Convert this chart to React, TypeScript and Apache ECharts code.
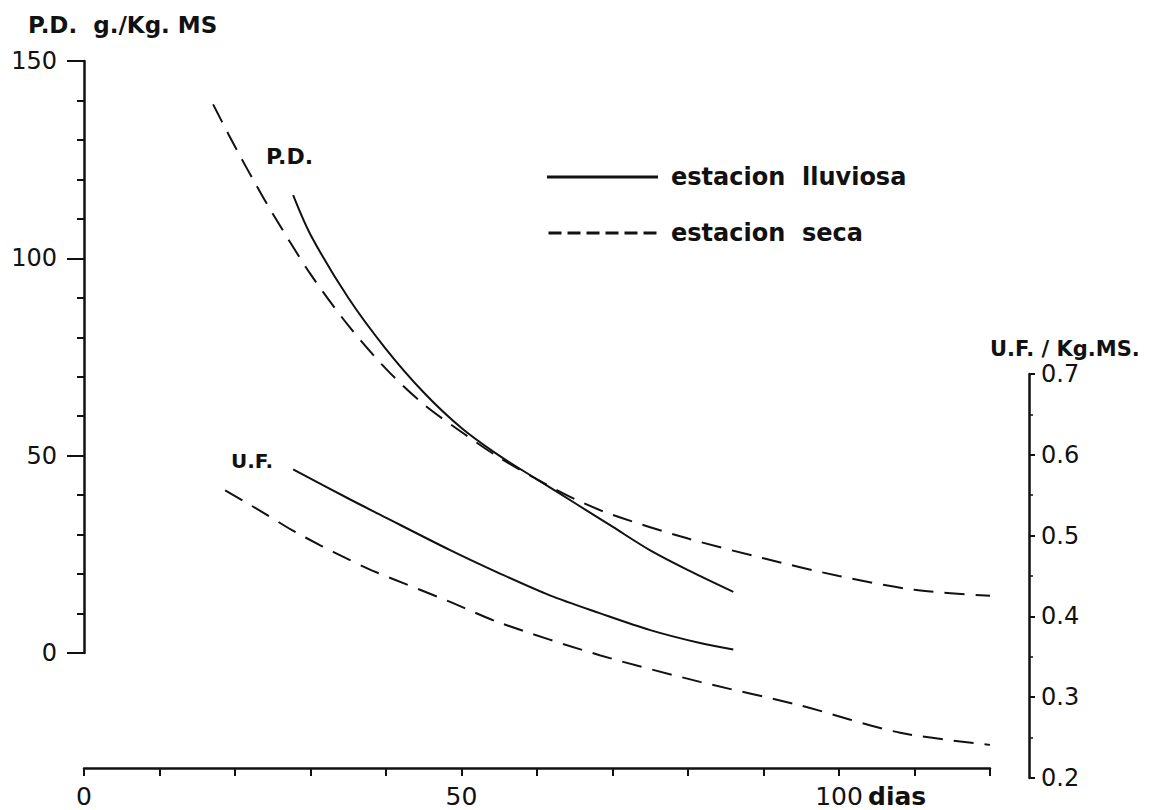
import React, { useEffect, useRef } from "react";
import * as echarts from "echarts";

// Days and values
const daysLluviosaPD = [27.7, 30, 35, 40, 45, 50, 55, 60, 65, 70, 75, 80, 86];
const pdLluviosa = [116, 106, 90, 77, 66, 57, 50, 44, 38, 32, 26, 21, 15.5];
const daysSecaPD = [17.1, 19.2, 20.8, 22.5, 25, 30, 35, 40, 45, 50, 55, 60, 65, 70, 80, 90, 100, 110, 120];
const pdSeca = [139, 131.2, 125.5, 119.6, 111.3, 96, 83, 72, 63, 56, 49.5, 44, 39, 35, 29, 24, 19.5, 16, 14.5];
const daysLluviosaUF = [27.7, 35.2, 39.2, 48.5, 55.1, 61.7, 68.3, 75, 81.6, 86];
const ufLluviosa = [0.582, 0.545, 0.526, 0.482, 0.453, 0.426, 0.404, 0.383, 0.367, 0.359];
const daysSecaUF = [18.7, 24, 27.5, 31.3, 34.7, 38.1, 48.5, 55.1, 68.3, 81.6, 94.8, 108.1, 120];
const ufSeca = [0.556, 0.527, 0.507, 0.488, 0.472, 0.457, 0.418, 0.392, 0.352, 0.319, 0.29, 0.256, 0.241];

const xTickLabels = [0, 50, 100];
const seriesNames = ["estacion lluviosa", "estacion seca"];

const FONT = "'DejaVu Sans', 'Noto Sans', sans-serif";
const INK = "#111";

const zip = (xs: number[], ys: number[]) => xs.map((x, i) => [x, ys[i]]);

// legend icon drawn as dashes (style only)
const dashIcon = (() => {
  let d = "path://";
  for (let x = 0; x < 111; x += 19) d += `M${x},0h13v3h-13z`;
  return d;
})();

export default function App() {
  const ref = useRef<HTMLDivElement>(null);
  useEffect(() => {
    if (!ref.current) return;
    const chart = echarts.init(ref.current, undefined, { renderer: "svg" });
    const L = 84;
    const W = 906;
    const lineStyleAxis = { color: INK, width: 2.5 };
    const solid = { color: INK, width: 2, type: "solid" as const };
    const dashed = { color: INK, width: 2, type: [20, 11] as any };
    chart.setOption({
      animation: false,
      backgroundColor: "#fff",
      grid: [
        { left: L, width: W, top: 61, height: 592, outerBoundsMode: "none" },
        { left: L, width: W, top: 700, height: 68, outerBoundsMode: "none" },
        { left: L, width: W, top: 374, height: 404, outerBoundsMode: "none" },
      ],
      xAxis: [
        { gridIndex: 0, type: "value", min: 0, max: 120, show: false },
        {
          gridIndex: 1,
          type: "value",
          min: 0,
          max: 120,
          interval: 10,
          axisLine: { onZero: false, lineStyle: lineStyleAxis },
          axisTick: { length: 8, lineStyle: { color: INK, width: 2 } },
          splitLine: { show: false },
          axisLabel: {
            margin: 16,
            color: INK,
            fontFamily: FONT,
            fontSize: 25,
            lineHeight: 24,
            formatter: (v: number) => (xTickLabels.includes(v) ? String(v) : ""),
          },
        },
        { gridIndex: 2, type: "value", min: 0, max: 120, show: false },
      ],
      yAxis: [
        {
          gridIndex: 0,
          type: "value",
          min: 0,
          max: 150,
          interval: 50,
          position: "left",
          axisLine: { show: true, onZero: false, lineStyle: lineStyleAxis },
          axisTick: { show: true, length: 17, lineStyle: { color: INK, width: 2 } },
          minorTick: { show: true, splitNumber: 5, length: 7, lineStyle: { color: INK, width: 2 } },
          splitLine: { show: false },
          axisLabel: { margin: 27, color: INK, fontFamily: FONT, fontSize: 24 },
        },
        { gridIndex: 1, type: "value", show: false },
        {
          gridIndex: 2,
          type: "value",
          min: 0.2,
          max: 0.7,
          interval: 0.1,
          position: "right",
          offset: 39,
          axisLine: { show: true, onZero: false, lineStyle: lineStyleAxis },
          axisTick: { show: true, length: 6, lineStyle: { color: INK, width: 2 } },
          minorTick: { show: true, splitNumber: 2, length: 4, lineStyle: { color: INK, width: 1.5 } },
          splitLine: { show: false },
          axisLabel: {
            margin: 12,
            color: INK,
            fontFamily: FONT,
            fontSize: 24,
            formatter: (v: number) => v.toFixed(1),
          },
        },
      ],
      legend: {
        orient: "vertical",
        left: 542,
        top: 160,
        itemWidth: 111,
        itemHeight: 3,
        itemGap: 32,
        data: [
          { name: seriesNames[0], icon: "rect" },
          { name: seriesNames[1], icon: dashIcon },
        ],
        itemStyle: { color: INK },
        textStyle: { color: INK, fontFamily: FONT, fontSize: 24, fontWeight: "bold", padding: [0, 0, 0, 8] },
        formatter: (n: string) => n.replace(" ", "  "),
      },
      graphic: [
        { type: "text", left: 28, top: 13, style: { text: "P.D.  g./Kg. MS", fill: INK, font: `bold 23px ${FONT}` } },
        { type: "text", left: 990, top: 338, style: { text: "U.F. / Kg.MS.", fill: INK, font: `bold 21px ${FONT}` } },
        { type: "text", left: 266, top: 145, style: { text: "P.D.", fill: INK, font: `bold 22px ${FONT}` } },
        { type: "text", left: 231, top: 451, style: { text: "U.F.", fill: INK, font: `bold 20px ${FONT}` } },
        { type: "text", left: 868, top: 784, style: { text: "dias", fill: INK, font: `bold 25px ${FONT}`, lineHeight: 24 } },
      ],
      series: [
        {
          name: seriesNames[0],
          type: "line",
          xAxisIndex: 0,
          yAxisIndex: 0,
          data: zip(daysLluviosaPD, pdLluviosa),
          smooth: 0.3,
          symbol: "none",
          lineStyle: solid,
          itemStyle: { color: INK },
        },
        {
          name: seriesNames[1],
          type: "line",
          xAxisIndex: 0,
          yAxisIndex: 0,
          data: zip(daysSecaPD, pdSeca),
          smooth: 0.3,
          symbol: "none",
          lineStyle: dashed,
          itemStyle: { color: INK },
        },
        {
          name: seriesNames[0],
          type: "line",
          xAxisIndex: 2,
          yAxisIndex: 2,
          data: zip(daysLluviosaUF, ufLluviosa),
          smooth: 0.3,
          symbol: "none",
          lineStyle: solid,
          itemStyle: { color: INK },
        },
        {
          name: seriesNames[1],
          type: "line",
          xAxisIndex: 2,
          yAxisIndex: 2,
          data: zip(daysSecaUF, ufSeca),
          smooth: 0.3,
          symbol: "none",
          lineStyle: dashed,
          itemStyle: { color: INK },
        },
      ],
    });
    return () => chart.dispose();
  }, []);
  return (
    <div
      ref={ref}
      style={{ position: "fixed", left: 0, top: 0, width: 1154, height: 810, background: "#fff" }}
    />
  );
}
